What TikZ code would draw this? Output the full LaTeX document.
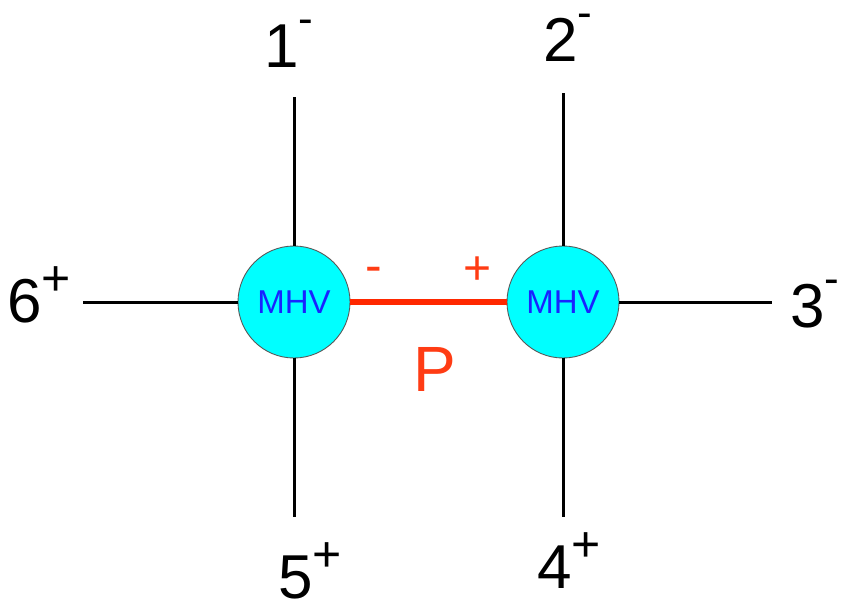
\documentclass[tikz,border=0pt]{standalone}
\usepackage{fontspec}
\setmainfont{Liberation Sans}
\definecolor{mhvfill}{RGB}{0,255,255}
\definecolor{mhvtext}{RGB}{25,35,255}
\definecolor{propred}{RGB}{255,40,0}
\definecolor{lblred}{RGB}{255,60,20}
\newcommand{\supm}{\raisebox{34pt}[0pt][0pt]{\fontsize{44}{44}\selectfont -}}
\newcommand{\supp}{\raisebox{27pt}[0pt][0pt]{\fontsize{50}{50}\selectfont +}}
\begin{document}
\begin{tikzpicture}[x=1pt,y=-1pt,
  vertex/.style={circle,draw=gray!70!black,line width=0.9pt,fill=mhvfill,minimum size=112pt,inner sep=0pt,
    text=mhvtext,font=\fontsize{33}{33}\selectfont},
  leg/.style={line width=3pt,black},
  prop/.style={line width=6.5pt,draw=propred},
  lbl/.style={font=\fontsize{62}{62}\selectfont,inner sep=0pt,anchor=base west},
  redlbl/.style={text=lblred,inner sep=0pt}]
\useasboundingbox (0,0) rectangle (848,607);
\node[vertex] (L) at (294,302) {MHV};
\node[vertex] (R) at (563,302) {MHV};
\coordinate (t1) at (294,97);
\coordinate (b5) at (294,517);
\coordinate (l6) at (83,302);
\coordinate (t2) at (563,93);
\coordinate (b4) at (563,517);
\coordinate (r3) at (772,302);
\draw[leg] (L.north) -- (t1);
\draw[leg] (L.south) -- (b5);
\draw[leg] (L.west) -- (l6);
\draw[leg] (R.north) -- (t2);
\draw[leg] (R.south) -- (b4);
\draw[leg] (R.east) -- (r3);
\draw[prop] (L.east) -- (R.west);
\node[lbl] (n1) at (264,68) {1\supm};
\node[lbl] (n2) at (543,62) {2\supm};
\node[lbl] (n6) at (7,322) {6\supp};
\node[lbl] (n3) at (790,327) {3\supm};
\node[lbl] (n5) at (278,598) {5\supp};
\node[lbl] (n4) at (537,588) {4\supp};
\node[redlbl,font=\fontsize{50}{50}\selectfont,anchor=base] (pm) at (374,282) {-};
\node[redlbl,font=\fontsize{48}{48}\selectfont,anchor=base] (pp) at (478,284) {+};
\node[redlbl,font=\fontsize{64}{64}\selectfont,anchor=base] (P) at (435,391) {P};
\end{tikzpicture}
\end{document}
